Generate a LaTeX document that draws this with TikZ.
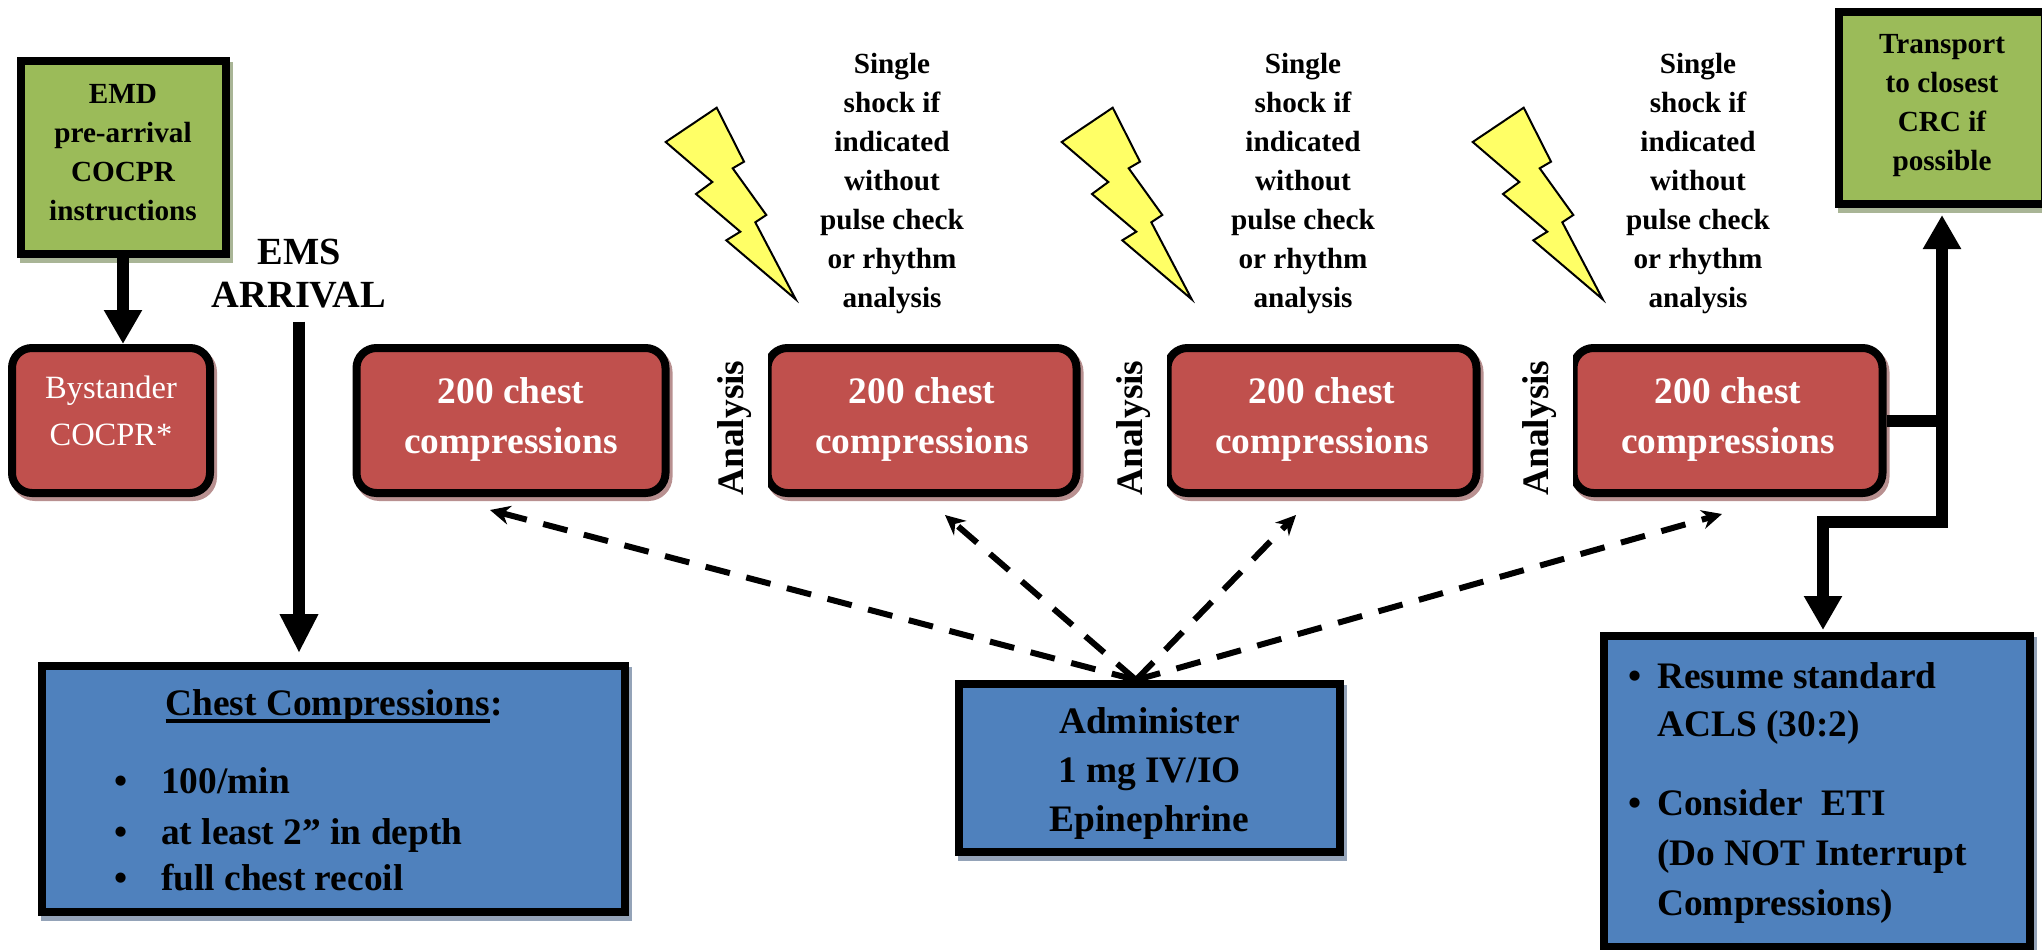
\documentclass[tikz,border=0pt]{standalone}
\usepackage{fontspec}
\setmainfont{Liberation Serif}
\usetikzlibrary{arrows.meta,shadows}

\definecolor{boxgreen}{HTML}{9BBB59}
\definecolor{boxred}{HTML}{C0504D}
\definecolor{boxblue}{HTML}{4F81BD}
\definecolor{shadegreen}{HTML}{A9B596}
\definecolor{shadered}{HTML}{B89090}
\definecolor{shadeblue}{HTML}{94A3B8}
\definecolor{boltyellow}{HTML}{FFFF66}

\newcommand{\ulbox}[1]{\setbox0=\hbox{#1}\rlap{\rule[-8pt]{\wd0}{4pt}}\box0}
\newcommand{\itembox}{\makebox[47pt][l]{\textbullet}}

\tikzset{
    flatbox/.style = {draw = black, line width = 8pt, inner sep = 0pt, align = center, text = black},
    greenbox/.style = {flatbox, fill = boxgreen, font = \fontsize{29.2}{39}\selectfont\bfseries,
        drop shadow = {draw = shadegreen, fill = shadegreen, shadow xshift = 3pt, shadow yshift = -5pt, opacity = 1}},
    bluebox/.style = {flatbox, fill = boxblue, font = \fontsize{37.4}{49}\selectfont\bfseries,
        drop shadow = {draw = shadeblue, fill = shadeblue, shadow xshift = 3pt, shadow yshift = -5pt, opacity = 1}},
    redbox/.style = {flatbox, fill = boxred, rounded corners = 20pt, text = white,
        minimum height = 145pt, font = \fontsize{37.4}{50}\selectfont\bfseries,
        drop shadow = {draw = shadered, fill = shadered, shadow xshift = 3pt, shadow yshift = -4pt, opacity = 1}},
    listitem/.style = {anchor = base west, inner sep = 0pt, font = \fontsize{37.4}{44}\selectfont\bfseries},
    shocktext/.style = {align = center, inner sep = 0pt, font = \fontsize{29.2}{39}\selectfont\bfseries},
    analysis/.style = {rotate = 90, fill = white, inner sep = 0pt, minimum width = 166pt, minimum height = 66pt,
        font = \fontsize{37.4}{40}\selectfont\bfseries},
    bolt/.style = {draw = black, fill = boltyellow, line width = 2pt, line join = miter},
    fatline/.style = {line width = 12pt},
    fatarrow/.style = {line width = 12pt, -{Triangle[length = 34pt, width = 36pt]}},
    epiarrow/.style = {line width = 6pt, dash pattern = on 25pt off 17pt, -{Stealth[length = 20pt, width = 19pt]}}
}

\begin{document}
\begin{tikzpicture}[x = 1pt, y = -1pt]
    \clip[use as bounding box] (0,0) rectangle (2042,950);

    % top row
    \node[greenbox, minimum width = 205pt, minimum height = 193pt] (emd) at (123,157.5)
        {EMD\\pre-arrival\\COCPR\\instructions\\[-28pt]\mbox{}};
    \node[greenbox, minimum width = 206pt, minimum height = 192pt] (transport) at (1942,108)
        {Transport\\to closest\\CRC if\\possible\\[-27pt]\mbox{}};
    \node[align = center, inner sep = 0pt, font = \fontsize{38.4}{43}\selectfont\bfseries] (arrival) at (299,274) {EMS\\ARRIVAL};

    % compressions
    \node[redbox, minimum width = 198pt, font = \fontsize{32.5}{47}\selectfont] (bystander) at (111,420.5) {Bystander\\COCPR*\\[-27pt]\mbox{}};
    \foreach \name/\xc in {comp1/511, comp2/922, comp3/1322, comp4/1728}
        \node[redbox, minimum width = 309pt] (\name) at (\xc,420.5) {200 chest\\compressions\\[-40pt]\mbox{}};
    \foreach \name/\xc in {analysis1/735, analysis2/1134, analysis3/1540}
        \node[analysis] (\name) at (\xc,428) {Analysis};

    % shocks
    \foreach \name/\xc in {shock1/892, shock2/1303, shock3/1698}
        \node[shocktext] (\name) at (\xc,184) {Single\\shock if\\indicated\\without\\pulse check\\or rhythm\\analysis};
    \foreach \dx in {0, 396, 807}
        \draw[bolt, xshift = \dx pt] (716.7,107.7) -- (744,161.7) -- (732.7,168.3) -- (766.3,215) -- (755.3,222.3)
            -- (795.7,299.3) -- (726.3,240.3) -- (740.3,231.7) -- (696,194) -- (712.3,182) -- (665.7,142) -- cycle;

    % blue boxes
    \node[bluebox, minimum width = 583pt, minimum height = 246pt] (chest) at (333,789) {};
    \node[listitem, anchor = base] (chesthead) at (334,715) {\ulbox{Chest Compressions}:};
    \node[listitem] (chest1) at (114,793) {\itembox 100/min};
    \node[listitem] (chest2) at (114,844) {\itembox at least 2” in depth};
    \node[listitem] (chest3) at (114,890) {\itembox full chest recoil};

    \node[bluebox, minimum width = 381pt, minimum height = 168pt] (epi) at (1149.5,768) {\mbox{}\\[-12pt]Administer\\1 mg IV/IO\\Epinephrine};

    \node[bluebox, minimum width = 426pt, minimum height = 311pt] (resume) at (1817,791.5) {};
    \node[listitem] (resume1) at (1628,688) {\makebox[29pt][l]{\textbullet}Resume standard};
    \node[listitem] (resume2) at (1657,736) {ACLS (30:2)};
    \node[listitem] (resume3) at (1628,815) {\makebox[29pt][l]{\textbullet}Consider\ \ ETI};
    \node[listitem] (resume4) at (1657,865) {(Do NOT Interrupt};
    \node[listitem] (resume5) at (1657,915) {Compressions)};

    % connectors
    \draw[fatarrow] (emd.south) -- (emd.south |- bystander.north);
    \draw[fatarrow, shorten <= 13pt, shorten >= 9pt, -{Triangle[length = 39pt, width = 36pt]}] (arrival.south) -- (arrival.south |- chest.north);

    \coordinate (junction) at (transport.south |- comp4.east);
    \coordinate (elbow) at (1942,522);
    \coordinate (resumein) at (1823,522);
    \draw[fatline] (comp4.east) -- (junction);
    \draw[fatarrow, shorten >= 7pt] (elbow) -- (transport.south);
    \draw[fatarrow, shorten >= 2pt, line join = miter] (1942,516) -- (elbow) -- (resumein) -- (resumein |- resume.north);

    \coordinate (epifrom) at (1136,680);
    \coordinate (epito1) at (490,510);
    \coordinate (epito2) at (945,515);
    \coordinate (epito3) at (1296,515);
    \coordinate (epito4) at (1722,514);
    \foreach \target in {epito1, epito2, epito3, epito4}
        \draw[epiarrow] (epifrom) -- (\target);
\end{tikzpicture}
\end{document}
